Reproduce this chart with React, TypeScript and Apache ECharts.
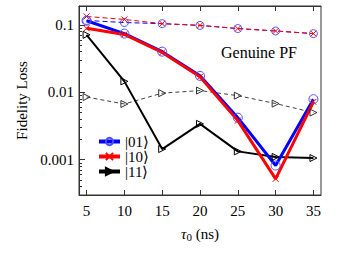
import React, { useEffect, useRef } from "react";
import * as echarts from "echarts";

const tau = [5, 10, 15, 20, 25, 30, 35];
const s01 = [0.115, 0.074, 0.04, 0.0175, 0.0042, 0.00082, 0.0079];
const s10 = [0.089, 0.072, 0.039, 0.017, 0.0038, 0.00052, 0.0072];
const s11 = [0.071, 0.0145, 0.00144, 0.0034, 0.00133, 0.0011, 0.00106];
const d01 = [0.116, 0.108, 0.104, 0.098, 0.088, 0.081, 0.074];
const d10 = [0.133, 0.12, 0.104, 0.098, 0.088, 0.081, 0.074];
const d11 = [0.0085, 0.0067, 0.0097, 0.0106, 0.0089, 0.0068, 0.005];
const xTicks = [5, 10, 15, 20, 25, 30, 35];
const yMajor = [0.001, 0.01, 0.1];
const yMinorMantissa = [2, 3, 4, 5, 6, 7, 8, 9];
const yMin = 0.0003;
const yMax = 0.19;

const FONT = "Times New Roman";

export default function App() {
  const ref = useRef<HTMLDivElement>(null);
  useEffect(() => {
    if (!ref.current) return;
    const chart = echarts.init(ref.current, null, { renderer: "svg" });
    const yMinor: number[] = [];
    yMajor.concat([0.0001]).forEach((d) =>
      yMinorMantissa.forEach((m) => {
        const v = +(m * d).toPrecision(3);
        if (v >= yMin && v <= yMax) yMinor.push(v);
      })
    );
    const pts = (ys: number[]) => tau.map((t, i) => [t, ys[i]]);
    const blue = "#0000ff";
    const red = "#ff0000";
    const xSym = "path://M0,0L10,10M10,0L0,10";
    const option: any = {
      animation: false,
      grid: { left: 79, top: 6, right: 20, bottom: 59, show: true, borderColor: "#333", borderWidth: 1 },
      xAxis: [
        {
          type: "value",
          min: 4,
          max: 36,
          name: "{i|τ}{s|0} (ns)",
          nameLocation: "middle",
          nameGap: 30,
          nameTextStyle: {
            fontFamily: FONT,
            fontSize: 15,
            color: "#000",
            rich: {
              i: { fontFamily: FONT, fontSize: 15, fontStyle: "italic", color: "#000" },
              s: { fontFamily: FONT, fontSize: 11, color: "#000", verticalAlign: "bottom", padding: [6, 0, 0, 0] },
            },
          },
          axisLine: { lineStyle: { color: "#333" } },
          axisTick: { inside: true, length: 5, customValues: xTicks, lineStyle: { color: "#333" } },
          axisLabel: { customValues: xTicks, fontFamily: FONT, fontSize: 15, color: "#000", margin: 8 },
          splitLine: { show: false },
        },
        {
          type: "value",
          position: "top",
          min: 4,
          max: 36,
          axisLine: { lineStyle: { color: "#333" } },
          axisTick: { inside: true, length: 5, customValues: xTicks, lineStyle: { color: "#333" } },
          axisLabel: { show: false },
          splitLine: { show: false },
        },
      ],
      yAxis: [
        {
          type: "log",
          min: yMin,
          max: yMax,
          name: "Fidelity Loss",
          nameLocation: "middle",
          nameGap: 46,
          nameTextStyle: { fontFamily: FONT, fontSize: 15, color: "#000" },
          axisLine: { lineStyle: { color: "#333" } },
          axisTick: { inside: true, length: 6, customValues: yMajor, lineStyle: { color: "#333" } },
          axisLabel: {
            customValues: yMajor,
            fontFamily: FONT,
            fontSize: 15,
            color: "#000",
            margin: 5,
            formatter: (v: number) => String(+v.toPrecision(3)),
          },
          splitLine: { show: false },
        },
        {
          type: "log",
          min: yMin,
          max: yMax,
          position: "left",
          axisLine: { show: false },
          axisTick: { inside: true, length: 3, customValues: yMinor, lineStyle: { color: "#333" } },
          axisLabel: { show: false },
          splitLine: { show: false },
        },
      ],
      legend: {
        data: ["|01⟩", "|10⟩", "|11⟩"],
        orient: "vertical",
        left: 92,
        top: 129,
        itemWidth: 21,
        itemHeight: 9,
        itemGap: 0,
        lineStyle: { width: 4 },
        textStyle: { fontFamily: FONT, fontSize: 15, lineHeight: 15, color: "#000" },
      },
      graphic: [
        {
          type: "text",
          left: 221,
          top: 44,
          style: { text: "Genuine PF", fontFamily: FONT, fontSize: 16, fill: "#000" },
        },
      ],
      series: [
        {
          name: "d11",
          type: "line",
          data: pts(d11),
          symbol: "triangle",
          symbolRotate: -90,
          symbolSize: 7,
          lineStyle: { color: "#444", width: 1, type: [4, 3] },
          itemStyle: { color: "transparent", borderColor: "#333", borderWidth: 1 },
        },
        {
          name: "d01",
          type: "line",
          data: pts(d01),
          symbol: "circle",
          symbolSize: 8,
          lineStyle: { color: blue, width: 1, type: [5, 3] },
          itemStyle: { color: "transparent", borderColor: "#5555ff", borderWidth: 1 },
        },
        {
          name: "d10",
          type: "line",
          data: pts(d10),
          symbol: xSym,
          symbolSize: 6,
          lineStyle: { color: red, width: 1, type: [5, 3] },
          itemStyle: { color: "transparent", borderColor: red, borderWidth: 1 },
        },
        {
          name: "|11⟩",
          type: "line",
          data: pts(s11),
          symbol: "triangle",
          symbolRotate: -90,
          symbolSize: 7,
          lineStyle: { color: "#000", width: 2 },
          itemStyle: { color: "transparent", borderColor: "#000", borderWidth: 1 },
        },
        {
          name: "|01⟩",
          type: "line",
          data: pts(s01),
          symbol: "circle",
          symbolSize: 9,
          lineStyle: { color: blue, width: 3 },
          itemStyle: { color: "transparent", borderColor: "#4d4dff", borderWidth: 1 },
        },
        {
          name: "|10⟩",
          type: "line",
          data: pts(s10),
          symbol: xSym,
          symbolSize: 6,
          lineStyle: { color: red, width: 3 },
          itemStyle: { color: "transparent", borderColor: red, borderWidth: 1 },
        },
      ],
    };
    chart.setOption(option);
    return () => chart.dispose();
  }, []);
  return <div ref={ref} style={{ width: 341, height: 254, position: "absolute", left: 0, top: 0 }} />;
}
